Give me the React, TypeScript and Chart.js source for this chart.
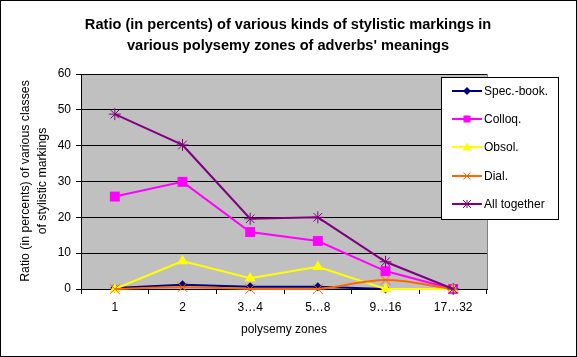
import React, { useEffect, useRef } from "react";
import { Chart, registerables } from "chart.js";

Chart.register(...registerables);

const categories = ["1", "2", "3…4", "5…8", "9…16", "17…32"];
const specBook = [0.3, 1.2, 0.6, 0.6, 0, 0];
const colloq = [25.8, 29.9, 15.9, 13.4, 5.0, 0];
const obsol = [0, 7.8, 3.0, 6.2, 0, 0];
const dial = [0, 0.5, 0, 0, 2.5, 0];
const allTogether = [48.8, 40.2, 19.6, 20.0, 7.6, 0];
const yTicks = [0, 10, 20, 30, 40, 50, 60];

const titleLines = [
  "Ratio (in percents) of various kinds of stylistic markings in",
  "various polysemy zones of adverbs' meanings",
];
const yTitleLines = ["Ratio (in percents) of various classes", "of stylistic markings"];
const xTitle = "polysemy zones";

const FONT = "'Liberation Sans', Arial, sans-serif";

const series = [
  { label: "Spec.-book.", data: specBook, color: "#000080", style: "rectRot", radius: 4.5, lr: 4 },
  { label: "Colloq.", data: colloq, color: "#FF00FF", style: "rect", radius: 7, lr: 3.5 },
  { label: "Obsol.", data: obsol, color: "#FFFF00", style: "triangle", radius: 6.3, lr: 4.5 },
  { label: "Dial.", data: dial, color: "#FF6600", style: "crossRot", radius: 7, lr: 3.5 },
  { label: "All together", data: allTogether, color: "#800080", style: "star", radius: 6, lr: 4 },
];

function drawPt(ctx: CanvasRenderingContext2D, style: string, r: number, x: number, y: number, color: string) {
  ctx.save();
  ctx.fillStyle = color;
  ctx.strokeStyle = color;
  ctx.lineWidth = 1;
  ctx.beginPath();
  if (style === "rectRot") {
    ctx.moveTo(x, y - r);
    ctx.lineTo(x + r, y);
    ctx.lineTo(x, y + r);
    ctx.lineTo(x - r, y);
    ctx.closePath();
    ctx.fill();
  } else if (style === "rect") {
    ctx.rect(x - r, y - r, 2 * r, 2 * r);
    ctx.fill();
  } else if (style === "triangle") {
    ctx.moveTo(x, y - r);
    ctx.lineTo(x + r, y + r * 0.8);
    ctx.lineTo(x - r, y + r * 0.8);
    ctx.closePath();
    ctx.fill();
  } else if (style === "crossRot") {
    ctx.moveTo(x - r, y - r);
    ctx.lineTo(x + r, y + r);
    ctx.moveTo(x + r, y - r);
    ctx.lineTo(x - r, y + r);
    ctx.stroke();
  } else if (style === "star") {
    ctx.moveTo(x - r, y - r);
    ctx.lineTo(x + r, y + r);
    ctx.moveTo(x + r, y - r);
    ctx.lineTo(x - r, y + r);
    ctx.moveTo(x, y - r);
    ctx.lineTo(x, y + r);
    ctx.stroke();
  }
  ctx.restore();
}

const decorPlugin = {
  id: "decor",
  beforeDraw(chart: any) {
    const { ctx, chartArea } = chart;
    ctx.save();
    ctx.fillStyle = "#FFFFFF";
    ctx.fillRect(0, 0, chart.width, chart.height);
    ctx.fillStyle = "#C0C0C0";
    ctx.fillRect(chartArea.left, chartArea.top, chartArea.right - chartArea.left + 1, chartArea.bottom - chartArea.top);
    ctx.strokeStyle = "#808080";
    ctx.lineWidth = 1;
    ctx.beginPath();
    ctx.moveTo(chartArea.left, chartArea.top + 0.5);
    ctx.lineTo(chartArea.right + 0.5, chartArea.top + 0.5);
    ctx.lineTo(chartArea.right + 0.5, chartArea.bottom);
    ctx.stroke();
    ctx.restore();
  },
  afterDraw(chart: any) {
    const { ctx } = chart;
    ctx.save();
    ctx.fillStyle = "#000";
    ctx.textAlign = "center";
    ctx.textBaseline = "middle";
    ctx.font = `bold 14.6px ${FONT}`;
    ctx.fillText(titleLines[0], 288, 25);
    ctx.fillText(titleLines[1], 288, 46);
    ctx.font = `12px ${FONT}`;
    ctx.fillText(xTitle, 284, 330);
    ctx.save();
    ctx.translate(26, 181);
    ctx.rotate(-Math.PI / 2);
    ctx.font = `12.3px ${FONT}`;
    ctx.fillText(yTitleLines[0], 0, 0);
    ctx.fillText(yTitleLines[1], 0, 17);
    ctx.restore();
    const lx = 441, ly = 77, lw = 117, lh = 142;
    ctx.fillStyle = "#FFFFFF";
    ctx.fillRect(lx, ly, lw, lh);
    ctx.strokeStyle = "#000";
    ctx.lineWidth = 1;
    ctx.strokeRect(lx + 0.5, ly + 0.5, lw, lh);
    const ys = [91, 119, 147, 176, 204];
    series.forEach((s, i) => {
      const y = ys[i];
      ctx.strokeStyle = s.color;
      ctx.lineWidth = 2;
      ctx.beginPath();
      ctx.moveTo(452, y);
      ctx.lineTo(482, y);
      ctx.stroke();
      drawPt(ctx, s.style, s.lr, 467, y, s.color);
      ctx.fillStyle = "#000";
      ctx.textAlign = "left";
      ctx.textBaseline = "middle";
      ctx.font = `12px ${FONT}`;
      ctx.fillText(s.label, 484, y + 1);
    });
    ctx.strokeStyle = "#000";
    ctx.lineWidth = 1;
    ctx.strokeRect(0.5, 0.5, chart.width - 1, chart.height - 1);
    ctx.restore();
  },
};

export default function App() {
  const ref = useRef<HTMLCanvasElement>(null);
  useEffect(() => {
    if (!ref.current) return;
    const n = series.length;
    const chart = new Chart(ref.current, {
      type: "line",
      data: {
        labels: categories,
        datasets: series.map((s, i) => ({
          label: s.label,
          data: s.data,
          borderColor: s.color,
          backgroundColor: s.color,
          borderWidth: 2,
          pointStyle: s.style as any,
          pointRadius: s.radius,
          pointBorderWidth: s.style === "crossRot" || s.style === "star" ? 1 : 0,
          pointBorderColor: s.color,
          pointBackgroundColor: s.color,
          tension: s.label === "Dial." ? 0.35 : 0,
          fill: false,
          order: n - i,
          clip: false as any,
        })),
      },
      options: {
        animation: false,
        responsive: false,
        devicePixelRatio: 1,
        layout: { padding: { left: 0, right: 90, top: 74, bottom: 0 } },
        plugins: {
          legend: { display: false },
          title: { display: false },
          tooltip: { enabled: false },
        },
        scales: {
          x: {
            offset: true,
            grid: {
              display: true,
              drawOnChartArea: false,
              drawTicks: true,
              tickLength: 5,
              offset: true,
              color: "#000",
            },
            border: { display: true, color: "#000", width: 1 },
            ticks: { color: "#000", font: { family: FONT, size: 12 }, padding: 6, maxRotation: 0 },
            afterFit: (scale: any) => {
              scale.height = 68;
            },
          },
          y: {
            min: 0,
            max: 60,
            afterBuildTicks: (scale: any) => {
              scale.ticks = yTicks.map((v) => ({ value: v }));
            },
            grid: { color: "#000", tickLength: 5, drawTicks: true },
            border: { display: true, color: "#000", width: 1 },
            ticks: { color: "#000", font: { family: FONT, size: 12 }, padding: 5 },
            afterFit: (scale: any) => {
              scale.width = 81;
            },
          },
        },
      },
      plugins: [decorPlugin],
    });
    return () => chart.destroy();
  }, []);
  return (
    <div style={{ position: "fixed", left: 0, top: 0, width: 577, height: 357 }}>
      <canvas ref={ref} width={577} height={357} style={{ width: 577, height: 357, display: "block" }} />
    </div>
  );
}
